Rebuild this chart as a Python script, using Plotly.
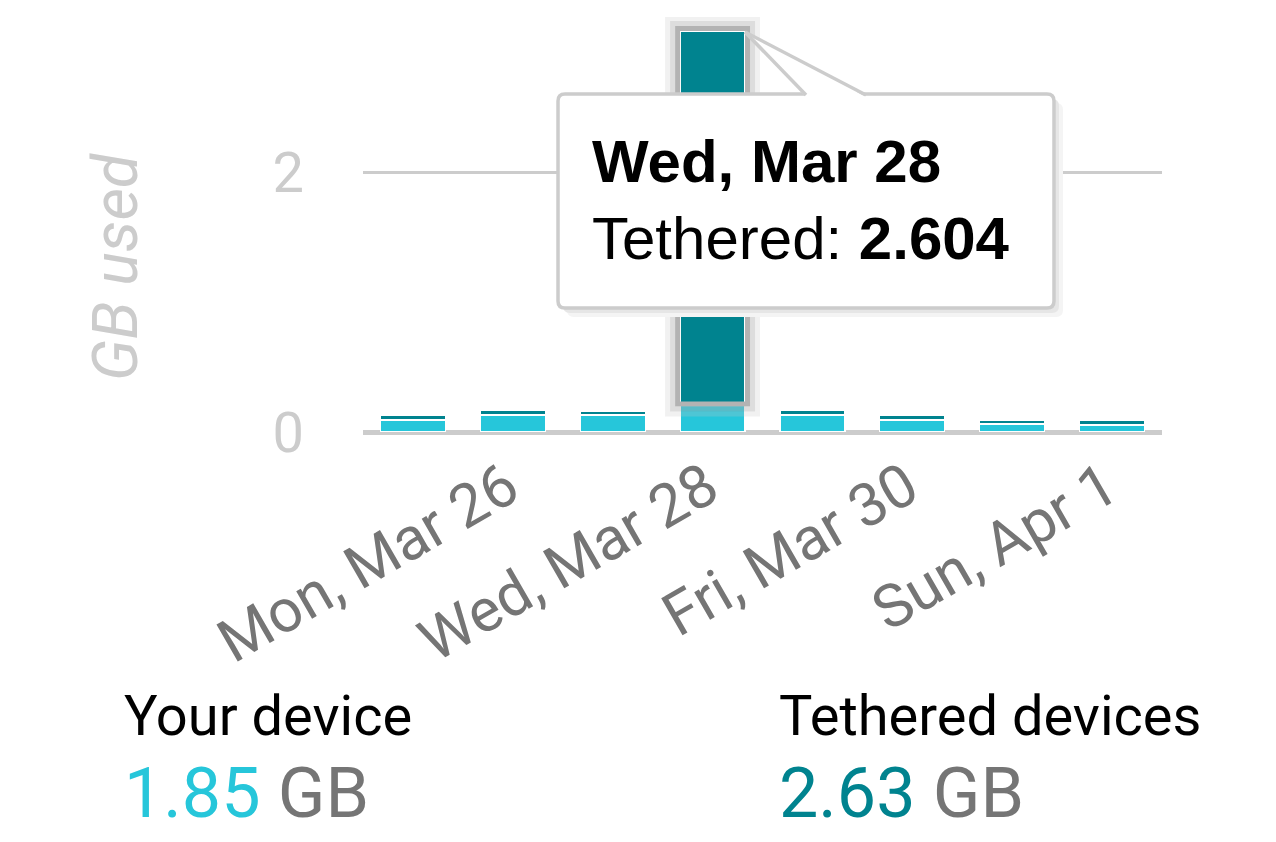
import plotly.graph_objects as go

# ---------------- data ----------------
days = ["Sun, Mar 25", "Mon, Mar 26", "Tue, Mar 27", "Wed, Mar 28",
        "Thu, Mar 29", "Fri, Mar 30", "Sat, Mar 31", "Sun, Apr 1"]
your_device = [0.093, 0.131, 0.131, 0.216, 0.131, 0.093, 0.062, 0.054]
tethered = [0.038, 0.039, 0.031, 2.876, 0.039, 0.038, 0.031, 0.039]
tick_days = ["Mon, Mar 26", "Wed, Mar 28", "Fri, Mar 30", "Sun, Apr 1"]
y_ticks = [0, 2]
y_range = [0, 3.2]

highlight_day = "Wed, Mar 28"
tooltip_label = "Tethered"
tooltip_value = "2.604"
total_device = "1.85"
total_tethered = "2.63"

CYAN = "#26c6da"
TEAL = "#00838f"
GREY_TXT = "#757575"
LIGHT = "#cccccc"

# ---------------- layout geometry (pixels) ----------------
W_FIG, H_FIG = 1276, 842
L, R, T, B = 363, 1162, 17, 432
PW, PH = R - L, B - T
n = len(days)
bar_frac = 0.65

def fx(p):
    return (p - L) / PW

def fy(p):
    return (B - p) / PH

dx = n / PW                      # category units per pixel
dy = (y_range[1] - y_range[0]) / PH  # data units per pixel

fig = go.Figure()
fig.add_trace(go.Bar(x=days, y=your_device, name="Your device",
                     marker=dict(color=CYAN, line=dict(color="white", width=1.2)),
                     hoverinfo="skip"))
fig.add_trace(go.Bar(x=days, y=tethered, name="Tethered devices",
                     marker=dict(color=TEAL, line=dict(color="white", width=1.2)),
                     hoverinfo="skip"))

shapes = []
# highlight around the hovered bar segment
i = days.index(highlight_day)
lo = your_device[i]
hi = your_device[i] + tethered[i]
hw = bar_frac / 2
for off, col in [(12.5, "rgba(200,200,200,0.25)"), (7.5, "rgba(170,170,170,0.4)"), (2.5, "#b3b3b3")]:
    shapes.append(dict(type="rect", xref="x", yref="y",
                       x0=i - hw - off * dx, x1=i + hw + off * dx,
                       y0=lo - (off - 2.5) * dy, y1=hi + off * dy,
                       line=dict(color=col, width=5), fillcolor="rgba(0,0,0,0)",
                       layer="above"))


def rrect(x0, y0, x1, y1, r):
    pts = [("M", [(x0 + r, y0)]), ("L", [(x1 - r, y0)]), ("Q", [(x1, y0), (x1, y0 + r)]),
           ("L", [(x1, y1 - r)]), ("Q", [(x1, y1), (x1 - r, y1)]),
           ("L", [(x0 + r, y1)]), ("Q", [(x0, y1), (x0, y1 - r)]),
           ("L", [(x0, y0 + r)]), ("Q", [(x0, y0), (x0 + r, y0)])]
    s = ""
    for cmd, ps in pts:
        s += cmd + " " + " ".join(f"{fx(a):.5f},{fy(b):.5f}" for a, b in ps) + " "
    return s + "Z"

# tooltip box
bx0, by0, bx1, by1 = 558, 94, 1054, 308
shapes.append(dict(type="path", xref="paper", yref="paper",
                   path=rrect(bx0 + 9, by0 + 9, bx1 + 9, by1 + 9, 7),
                   fillcolor="#f4f4f4", line=dict(width=0)))
shapes.append(dict(type="path", xref="paper", yref="paper",
                   path=rrect(bx0 + 5, by0 + 5, bx1 + 5, by1 + 5, 7),
                   fillcolor="#e6e6e6", line=dict(width=0)))
shapes.append(dict(type="path", xref="paper", yref="paper",
                   path=rrect(bx0, by0, bx1, by1, 7),
                   fillcolor="white", line=dict(color=LIGHT, width=3.5)))
# callout triangle
tip = (745, 32)
c0, c1 = (806, 95), (866, 95)
shapes.append(dict(type="path", xref="paper", yref="paper",
                   path=f"M {fx(tip[0])},{fy(tip[1])} L {fx(c0[0])},{fy(c0[1] + 2)} "
                        f"L {fx(c1[0])},{fy(c1[1] + 2)} Z",
                   fillcolor="white", line=dict(width=0)))
for c in (c0, c1):
    shapes.append(dict(type="line", xref="paper", yref="paper",
                       x0=fx(tip[0]), y0=fy(tip[1]), x1=fx(c[0]), y1=fy(c[1]),
                       line=dict(color=LIGHT, width=3.5)))

annotations = [
    dict(text="GB used", xref="paper", yref="paper", x=fx(115), y=fy(267),
         xanchor="center", yanchor="middle", textangle=-90, showarrow=False,
         font=dict(family="Roboto", size=63, color=LIGHT, style="italic")),
    dict(text=f"<b>{highlight_day}</b>", xref="paper", yref="paper",
         x=fx(590), y=fy(161), xanchor="left", yanchor="middle", showarrow=False,
         font=dict(family="Liberation Sans", size=60, color="black")),
    dict(text=f"{tooltip_label}: <b>{tooltip_value}</b>", xref="paper", yref="paper",
         x=fx(590), y=fy(238), xanchor="left", yanchor="middle", showarrow=False,
         font=dict(family="Liberation Sans", size=60, color="black")),
    dict(text="Your device", xref="paper", yref="paper", x=fx(122), y=fy(716),
         xanchor="left", yanchor="middle", showarrow=False,
         font=dict(family="Roboto", size=56, color="black")),
    dict(text=f"<span style='color:{CYAN}'>{total_device}</span> GB", xref="paper", yref="paper",
         x=fx(122), y=fy(793), xanchor="left", yanchor="middle", showarrow=False,
         font=dict(family="Roboto", size=70, color=GREY_TXT)),
    dict(text="Tethered devices", xref="paper", yref="paper", x=fx(777), y=fy(716),
         xanchor="left", yanchor="middle", showarrow=False,
         font=dict(family="Roboto", size=56, color="black")),
    dict(text=f"<span style='color:{TEAL}'>{total_tethered}</span> GB", xref="paper", yref="paper",
         x=fx(777), y=fy(793), xanchor="left", yanchor="middle", showarrow=False,
         font=dict(family="Roboto", size=70, color=GREY_TXT)),
]

fig.update_layout(
    width=W_FIG, height=H_FIG,
    margin=dict(l=L, r=W_FIG - R, t=T, b=H_FIG - B, pad=0),
    barmode="stack", bargap=1 - bar_frac,
    showlegend=False,
    plot_bgcolor="white", paper_bgcolor="white",
    shapes=shapes, annotations=annotations,
    font=dict(family="Roboto"),
    xaxis=dict(type="category", categoryorder="array", categoryarray=days,
               tickmode="array", tickvals=tick_days, ticktext=tick_days,
               tickangle=-30, tickfont=dict(family="Roboto", size=60, color=GREY_TXT),
               showgrid=False, showline=False, zeroline=False, ticks="",
               ticklabelstandoff=8, ticklabelshift=-5),
    yaxis=dict(range=y_range, tickmode="array", tickvals=y_ticks,
               tickfont=dict(family="Roboto", size=56, color=LIGHT),
               showgrid=True, gridcolor=LIGHT, gridwidth=3,
               zeroline=True, zerolinecolor=LIGHT, zerolinewidth=5,
               showline=False, ticks="", ticklabelstandoff=58),
)

fig.write_html("out.html")
